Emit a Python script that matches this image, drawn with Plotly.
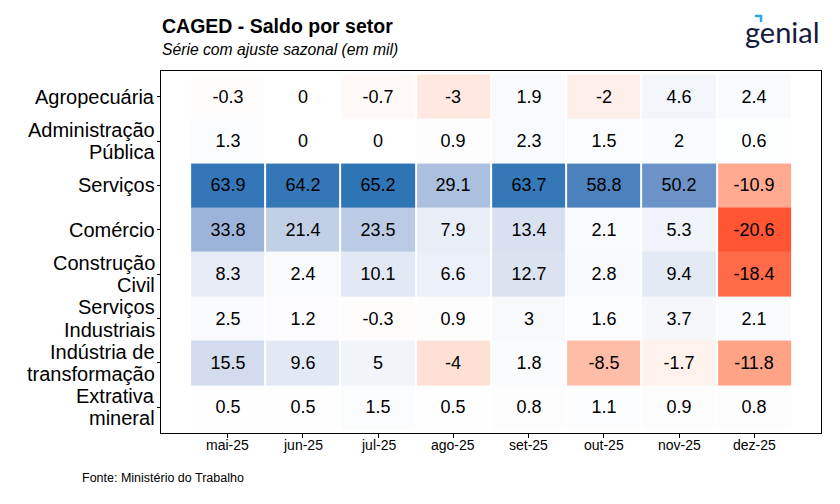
import plotly.graph_objects as go

# ---------------- data ----------------
months = ["mai-25", "jun-25", "jul-25", "ago-25", "set-25", "out-25", "nov-25", "dez-25"]
sectors = ["Agropecuária", "Administração<br>Pública", "Serviços", "Comércio",
           "Construção<br>Civil", "Serviços<br>Industriais", "Indústria de<br>transformação",
           "Extrativa<br>mineral"]

agropecuaria = [-0.3, 0, -0.7, -3, 1.9, -2, 4.6, 2.4]
administracao = [1.3, 0, 0, 0.9, 2.3, 1.5, 2, 0.6]
servicos = [63.9, 64.2, 65.2, 29.1, 63.7, 58.8, 50.2, -10.9]
comercio = [33.8, 21.4, 23.5, 7.9, 13.4, 2.1, 5.3, -20.6]
construcao = [8.3, 2.4, 10.1, 6.6, 12.7, 2.8, 9.4, -18.4]
serv_industriais = [2.5, 1.2, -0.3, 0.9, 3, 1.6, 3.7, 2.1]
ind_transformacao = [15.5, 9.6, 5, -4, 1.8, -8.5, -1.7, -11.8]
extrativa = [0.5, 0.5, 1.5, 0.5, 0.8, 1.1, 0.9, 0.8]

rows = [agropecuaria, administracao, servicos, comercio, construcao,
        serv_industriais, ind_transformacao, extrativa]

# ---------------- colour scale (Lab interpolation, like ggplot) ----------------
LOW = (255, 85, 51)
MID = (255, 255, 255)
HIGH = (46, 117, 182)


def _lin(c):
    c = c / 255.0
    return c / 12.92 if c <= 0.04045 else ((c + 0.055) / 1.055) ** 2.4


def _delin(c):
    c = 12.92 * c if c <= 0.0031308 else 1.055 * c ** (1 / 2.4) - 0.055
    return max(0, min(255, round(c * 255)))


def rgb2lab(rgb):
    r, g, b = [_lin(v) for v in rgb]
    x = (0.4124 * r + 0.3576 * g + 0.1805 * b) / 0.95047
    y = (0.2126 * r + 0.7152 * g + 0.0722 * b) / 1.0
    z = (0.0193 * r + 0.1192 * g + 0.9505 * b) / 1.08883
    f = lambda t: t ** (1 / 3) if t > 0.008856 else 7.787 * t + 16 / 116
    fx, fy, fz = f(x), f(y), f(z)
    return (116 * fy - 16, 500 * (fx - fy), 200 * (fy - fz))


def lab2rgb(lab):
    L, a, bb = lab
    fy = (L + 16) / 116
    fx = fy + a / 500
    fz = fy - bb / 200
    finv = lambda t: t ** 3 if t ** 3 > 0.008856 else (t - 16 / 116) / 7.787
    x, y, z = finv(fx) * 0.95047, finv(fy), finv(fz) * 1.08883
    r = 3.2406 * x - 1.5372 * y - 0.4986 * z
    g = -0.9689 * x + 1.8758 * y + 0.0415 * z
    b = 0.0557 * x - 0.2040 * y + 1.0570 * z
    return (_delin(r), _delin(g), _delin(b))


def mix(c1, c2, t):
    l1, l2 = rgb2lab(c1), rgb2lab(c2)
    return lab2rgb(tuple(l1[i] + (l2[i] - l1[i]) * t for i in range(3)))


allvals = [v for r in rows for v in r]
zmin, zmax = min(allvals), max(allvals)
midpos = (0 - zmin) / (zmax - zmin)
N = 20
colorscale = []
for i in range(N + 1):
    t = i / N
    c = mix(LOW, MID, t)
    colorscale.append([midpos * t, "rgb(%d,%d,%d)" % c])
for i in range(1, N + 1):
    t = i / N
    c = mix(MID, HIGH, t)
    colorscale.append([midpos + (1 - midpos) * t, "rgb(%d,%d,%d)" % c])

text = [[f"{v:g}" for v in r] for r in rows]

fig = go.Figure(go.Heatmap(
    z=rows, x=months, y=sectors,
    zmin=zmin, zmax=zmax, colorscale=colorscale, showscale=False,
    text=text, texttemplate="%{text}",
    textfont=dict(family="Liberation Sans, Arial", size=18, color="black"),
    xgap=2, hoverinfo="skip",
))

# page body has an 8px margin in the browser: compensate
OFF = 8
W, H = 840, 504
L, T = 161 - OFF, 71 - OFF
pw, ph = 660, 362
R, B = W - L - pw, H - T - ph


def px(x):
    return (x - OFF - L) / pw


def py(y):
    return (T + ph - (y - OFF)) / ph


annotations = [
    dict(text="<b>CAGED - Saldo por setor</b>", x=px(160), y=py(26), xref="paper",
         yref="paper", xanchor="left", yanchor="middle", showarrow=False,
         font=dict(size=19.5, color="black")),
    dict(text="<i>Série com ajuste sazonal (em mil)</i>", x=px(160), y=py(50),
         xref="paper", yref="paper", xanchor="left", yanchor="middle",
         showarrow=False, font=dict(size=15.7, color="black")),
    dict(text="Fonte: Ministério do Trabalho", x=px(80), y=py(478), xref="paper",
         yref="paper", xanchor="left", yanchor="middle", showarrow=False,
         font=dict(size=12.5, color="black")),
    dict(text="genial", x=px(782), y=py(31), xref="paper", yref="paper",
         xanchor="center", yanchor="middle", showarrow=False,
         font=dict(family="Lato", size=29, color="#161a3c")),
]

# y-axis labels (tight line spacing like the reference)
for s in sectors:
    parts = s.split("<br>")
    n = len(parts)
    for k, p in enumerate(parts):
        shift = (k - (n - 1) / 2) * 0.5
        annotations.append(dict(text=p, x=px(157), y=s, yref="y", xref="paper",
                                yshift=-shift * 44.4, xanchor="right", yanchor="middle",
                                showarrow=False, font=dict(size=20, color="black")))

# x-axis labels
for m in months:
    annotations.append(dict(text=m, x=m, xref="x", y=py(445), yref="paper",
                            xanchor="center", yanchor="middle", showarrow=False,
                            font=dict(size=14, color="black")))

fig.update_layout(
    width=W, height=H,
    margin=dict(l=L, r=R, t=T, b=B, autoexpand=False),
    paper_bgcolor="white", plot_bgcolor="white",
    font=dict(family="Liberation Sans, Arial", color="black"),
    xaxis=dict(range=[-0.887, 7.887], showline=True, mirror=True, linecolor="black",
               linewidth=1, ticks="outside", ticklen=4, tickcolor="black",
               showticklabels=False, showgrid=False, zeroline=False, fixedrange=True),
    yaxis=dict(range=[7.58, -0.58], showline=True, mirror=True, linecolor="black",
               linewidth=1, ticks="outside", ticklen=3, tickcolor="black",
               showticklabels=False, showgrid=False, zeroline=False, fixedrange=True),
    annotations=annotations,
    shapes=[
        dict(type="path", xref="paper", yref="paper",
             path=f"M {px(755)},{py(16)} L {px(761)},{py(16)} L {px(761)},{py(22)}",
             line=dict(color="#29a9e1", width=2.5)),
    ],
)

fig.write_html("out.html")
